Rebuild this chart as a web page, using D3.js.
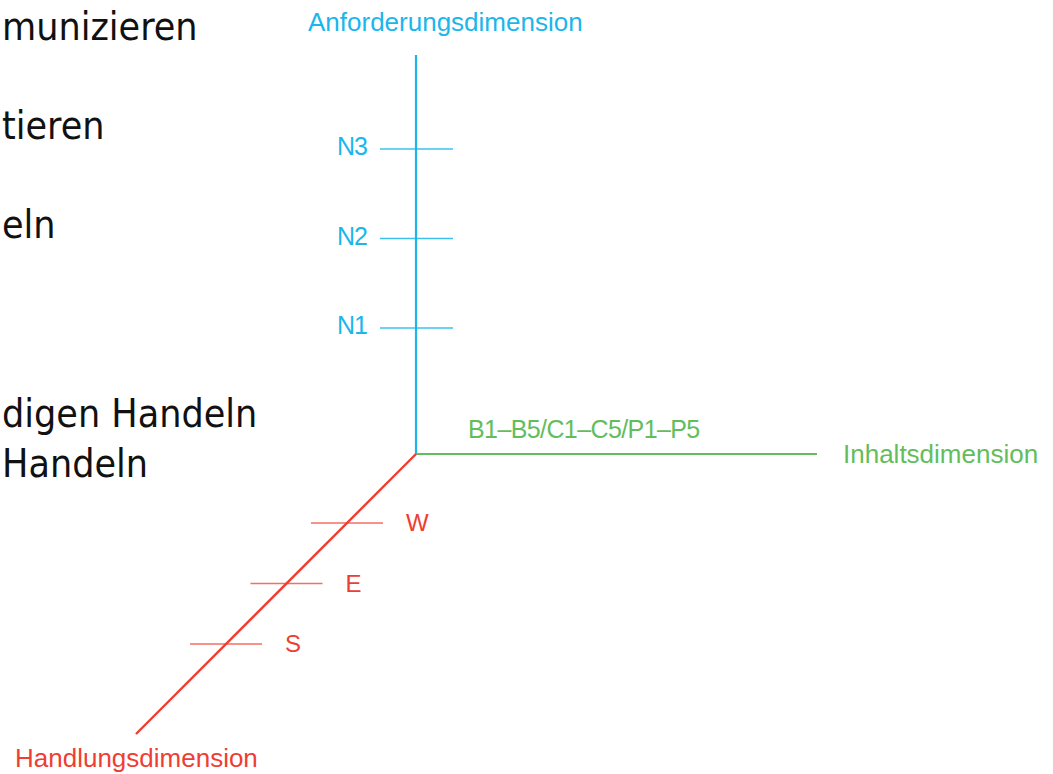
<!DOCTYPE html>
<html>
<head>
<meta charset="utf-8">
<script src="https://cdn.jsdelivr.net/npm/d3@7"></script>
<style>
  html, body { margin: 0; padding: 0; background: #fff; }
  svg { display: block; }
</style>
</head>
<body>
<svg id="chart"></svg>
<script>
const width = 1053;
const height = 774;

// slide text behind the diagram (left part hidden in the original)
const bgLines = ["munizieren", "tieren", "eln", "digen Handeln", "Handeln"];
const bgBaselines = [40, 139, 238, 427, 477];

// the three dimensions
const levelLabels = ["N1", "N2", "N3"];
const actionLabels = ["S", "E", "W"];
const contentLabel = "B1–B5/C1–C5/P1–P5";
const axisTitles = ["Anforderungsdimension", "Inhaltsdimension", "Handlungsdimension"];

const blue = "#1ab6ec";
const green = "#63bd5c";
const red = "#ee3e33";

const origin = { x: 416, y: 454 };

const svg = d3.select("#chart")
  .attr("width", width)
  .attr("height", height);

// background text
svg.append("g")
  .selectAll("text")
  .data(bgLines)
  .join("text")
  .attr("x", 2)
  .attr("y", (d, i) => bgBaselines[i])
  .attr("font-family", "'DejaVu Sans Condensed', 'DejaVu Sans', sans-serif")
  .style("font-stretch", "condensed")
  .attr("font-size", "39px")
  .attr("fill", "#111")
  .text(d => d);

const font = "'Liberation Sans', Arial, sans-serif";

// --- vertical axis: Anforderungsdimension ---
const yLevel = d3.scalePoint()
  .domain(levelLabels)
  .range([328, 149]);

svg.append("line")
  .attr("x1", origin.x).attr("y1", origin.y)
  .attr("x2", origin.x).attr("y2", 55)
  .attr("stroke", blue)
  .attr("stroke-width", 2.2);

const lv = svg.append("g")
  .selectAll("g")
  .data(levelLabels)
  .join("g")
  .attr("transform", d => `translate(${origin.x},${yLevel(d)})`);

lv.append("line")
  .attr("x1", -36).attr("x2", 37)
  .attr("stroke", blue)
  .attr("stroke-opacity", 0.85)
  .attr("stroke-width", 1.6);

lv.append("text")
  .attr("x", -49)
  .attr("y", 6)
  .attr("text-anchor", "end")
  .attr("font-family", font)
  .attr("font-size", "25px")
  .attr("letter-spacing", "-1px")
  .attr("fill", blue)
  .text(d => d);

svg.append("text")
  .attr("x", 308)
  .attr("y", 31)
  .attr("font-family", font)
  .attr("font-size", "26px")
  .attr("fill", blue)
  .text(axisTitles[0]);

// --- horizontal axis: Inhaltsdimension ---
svg.append("line")
  .attr("x1", origin.x).attr("y1", origin.y)
  .attr("x2", 817).attr("y2", origin.y)
  .attr("stroke", green)
  .attr("stroke-width", 2.2);

svg.append("text")
  .attr("x", 468)
  .attr("y", 438)
  .attr("font-family", font)
  .attr("font-size", "25px")
  .attr("letter-spacing", "-0.6px")
  .attr("fill", green)
  .text(contentLabel);

svg.append("text")
  .attr("x", 843)
  .attr("y", 463)
  .attr("font-family", font)
  .attr("font-size", "26px")
  .attr("fill", green)
  .text(axisTitles[1]);

// --- diagonal axis: Handlungsdimension ---
const yAction = d3.scalePoint()
  .domain(actionLabels)
  .range([644, 523]);
const diagX = y => origin.x - (y - origin.y);

svg.append("line")
  .attr("x1", origin.x).attr("y1", origin.y)
  .attr("x2", diagX(734)).attr("y2", 734)
  .attr("stroke", red)
  .attr("stroke-width", 2.4);

const ac = svg.append("g")
  .selectAll("g")
  .data(actionLabels)
  .join("g")
  .attr("transform", d => `translate(${diagX(yAction(d))},${yAction(d)})`);

ac.append("line")
  .attr("x1", -36).attr("x2", 36)
  .attr("stroke", red)
  .attr("stroke-opacity", 0.75)
  .attr("stroke-width", 1.6);

ac.append("text")
  .attr("x", 59)
  .attr("y", 8)
  .attr("font-family", font)
  .attr("font-size", "24px")
  .attr("fill", red)
  .text(d => d);

svg.append("text")
  .attr("x", 15)
  .attr("y", 767)
  .attr("font-family", font)
  .attr("font-size", "26px")
  .attr("fill", red)
  .text(axisTitles[2]);
</script>
</body>
</html>
